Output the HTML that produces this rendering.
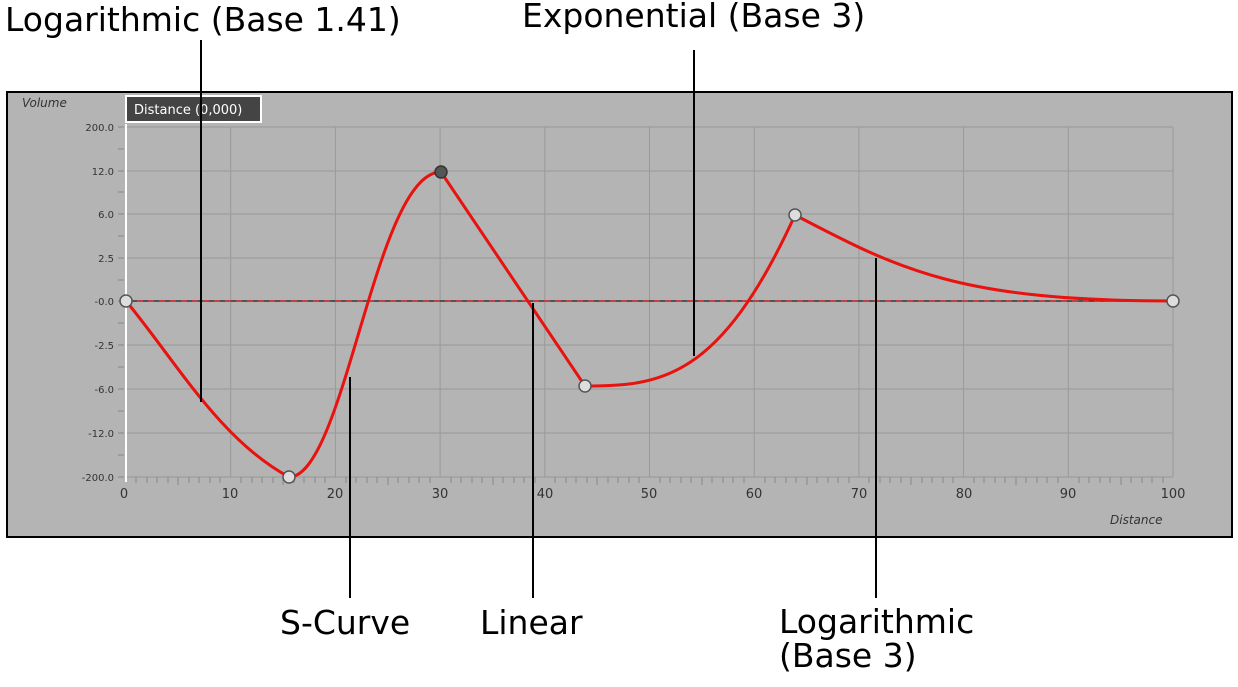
<!DOCTYPE html>
<html><head><style>
body{margin:0;background:#fff;width:1238px;height:683px;overflow:hidden;font-family:"DejaVu Sans","Liberation Sans",sans-serif}
</style></head><body>
<svg width="1238" height="683" xmlns="http://www.w3.org/2000/svg">
<rect x="7" y="92" width="1225" height="445" fill="#b4b4b4" stroke="#000" stroke-width="2"/>
<g stroke="#999" stroke-width="1">
<line x1="126" y1="127" x2="1173" y2="127"/>
<line x1="126" y1="171" x2="1173" y2="171"/>
<line x1="126" y1="214" x2="1173" y2="214"/>
<line x1="126" y1="258" x2="1173" y2="258"/>
<line x1="126" y1="345" x2="1173" y2="345"/>
<line x1="126" y1="389" x2="1173" y2="389"/>
<line x1="126" y1="433" x2="1173" y2="433"/>
<line x1="126" y1="477" x2="1173" y2="477"/>
<line x1="230.7" y1="127" x2="230.7" y2="477"/>
<line x1="335.4" y1="127" x2="335.4" y2="477"/>
<line x1="440.1" y1="127" x2="440.1" y2="477"/>
<line x1="544.8" y1="127" x2="544.8" y2="477"/>
<line x1="649.5" y1="127" x2="649.5" y2="477"/>
<line x1="754.2" y1="127" x2="754.2" y2="477"/>
<line x1="858.9" y1="127" x2="858.9" y2="477"/>
<line x1="963.6" y1="127" x2="963.6" y2="477"/>
<line x1="1068.3" y1="127" x2="1068.3" y2="477"/>
<line x1="1173" y1="127" x2="1173" y2="477"/>
</g>
<line x1="126" y1="124" x2="126" y2="482" stroke="#fff" stroke-width="2"/>
<g stroke="#888" stroke-width="1">
<path d="M136 477v6M147 477v6M157 477v6M168 477v6M178 477v8M189 477v6M199 477v6M210 477v6M220 477v6M241 477v6M252 477v6M262 477v6M273 477v6M283 477v8M294 477v6M304 477v6M315 477v6M325 477v6M346 477v6M356 477v6M367 477v6M377 477v6M388 477v8M398 477v6M409 477v6M419 477v6M430 477v6M451 477v6M461 477v6M472 477v6M482 477v6M493 477v8M503 477v6M514 477v6M524 477v6M535 477v6M555 477v6M566 477v6M576 477v6M587 477v6M597 477v8M608 477v6M618 477v6M629 477v6M639 477v6M660 477v6M670 477v6M681 477v6M691 477v6M702 477v8M712 477v6M723 477v6M733 477v6M744 477v6M765 477v6M775 477v6M786 477v6M796 477v6M807 477v8M817 477v6M828 477v6M838 477v6M849 477v6M869 477v6M880 477v6M890 477v6M901 477v6M911 477v8M922 477v6M932 477v6M943 477v6M953 477v6M974 477v6M984 477v6M995 477v6M1005 477v6M1016 477v8M1026 477v6M1037 477v6M1047 477v6M1058 477v6M1079 477v6M1089 477v6M1100 477v6M1110 477v6M1121 477v8M1131 477v6M1142 477v6M1152 477v6M1163 477v6"/>
<path d="M118 127h6M118 149h6M118 171h6M118 192h6M118 214h6M118 236h6M118 258h6M118 280h6M118 301h6M118 323h6M118 345h6M118 367h6M118 389h6M118 411h6M118 433h6M118 455h6M118 477h6"/>
</g>
<g font-size="10" fill="#333" text-anchor="end">
<text x="114" y="131">200.0</text><text x="114" y="175">12.0</text><text x="114" y="218">6.0</text><text x="114" y="262">2.5</text><text x="114" y="305">-0.0</text><text x="114" y="349">-2.5</text><text x="114" y="393">-6.0</text><text x="114" y="437">-12.0</text><text x="114" y="481">-200.0</text>
</g>
<g font-size="13" fill="#333" text-anchor="middle">
<text x="124" y="498">0</text><text x="230" y="498">10</text><text x="335" y="498">20</text><text x="440" y="498">30</text><text x="545" y="498">40</text><text x="649" y="498">50</text><text x="754" y="498">60</text><text x="859" y="498">70</text><text x="964" y="498">80</text><text x="1068" y="498">90</text><text x="1173" y="498">100</text>
</g>
<text x="22" y="107" font-size="12" font-style="italic" fill="#333">Volume</text>
<text x="1110" y="524" font-size="12" font-style="italic" fill="#333">Distance</text>
<rect x="126" y="96" width="135" height="26" fill="#444" stroke="#fff" stroke-width="2"/>
<text x="134" y="114" font-size="13" fill="#fff">Distance (0,000)</text>
<line x1="126" y1="301" x2="1173" y2="301" stroke="#333" stroke-width="1.5"/>
<line x1="126" y1="301" x2="1173" y2="301" stroke="#d33" stroke-width="1.5" stroke-dasharray="6 5"/>
<path d="M126 301 C175 360,220 440,289 477 C345 477,375 172,441 172 L585 386 C660 386,720 380,795 215 C900 270,960 301,1173 301" fill="none" stroke="#e8120e" stroke-width="3"/>
<g fill="#ddd" stroke="#555" stroke-width="1.5">
<circle cx="126" cy="301" r="6"/><circle cx="289" cy="477" r="6"/><circle cx="585" cy="386" r="6"/><circle cx="795" cy="215" r="6"/><circle cx="1173" cy="301" r="6"/>
</g>
<circle cx="441" cy="172" r="6" fill="#555" stroke="#333" stroke-width="1.5"/>
<g stroke="#000" stroke-width="2">
<line x1="201" y1="40" x2="201" y2="402"/>
<line x1="350" y1="377" x2="350" y2="598"/>
<line x1="533" y1="303" x2="533" y2="598"/>
<line x1="694" y1="50" x2="694" y2="356"/>
<line x1="876" y1="258" x2="876" y2="598"/>
</g>
<g font-size="33" fill="#000">
<text x="5" y="31">Logarithmic (Base 1.41)</text>
<text x="522" y="27">Exponential (Base 3)</text>
<text x="280" y="634">S-Curve</text>
<text x="480" y="634">Linear</text>
<text x="779" y="633">Logarithmic</text>
<text x="779" y="667">(Base 3)</text>
</g>
</svg>
</body></html>
